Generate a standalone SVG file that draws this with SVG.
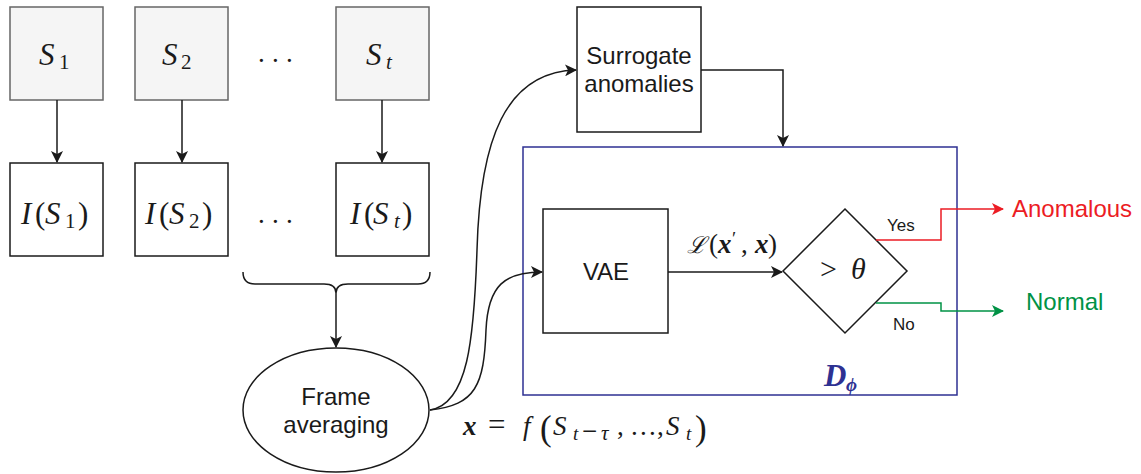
<svg xmlns="http://www.w3.org/2000/svg" width="1141" height="474" viewBox="0 0 1141 474">
  <defs>
    <marker id="arr" viewBox="0 0 12 12" refX="11" refY="6" markerWidth="12" markerHeight="12" markerUnits="userSpaceOnUse" orient="auto">
      <path d="M0,0 L12,6 L0,12 L3,6 Z" fill="#1a1a1a"/>
    </marker>
    <marker id="arrRed" viewBox="0 0 12 12" refX="11" refY="6" markerWidth="12" markerHeight="12" markerUnits="userSpaceOnUse" orient="auto">
      <path d="M0,0 L12,6 L0,12 L3,6 Z" fill="#ec1c24"/>
    </marker>
    <marker id="arrGreen" viewBox="0 0 12 12" refX="11" refY="6" markerWidth="12" markerHeight="12" markerUnits="userSpaceOnUse" orient="auto">
      <path d="M0,0 L12,6 L0,12 L3,6 Z" fill="#009245"/>
    </marker>
  </defs>
  <style>
    .src { fill: #f5f5f5; stroke: #666666; stroke-width: 1.5; }
    .box { fill: #ffffff; stroke: #1a1a1a; stroke-width: 1.5; }
    .math { font-family: "Liberation Serif", "DejaVu Serif", serif; fill: #1a1a1a; }
    .it { font-style: italic; }
    .bd { font-weight: bold; }
    .big { font-size: 31px; }
    .mid { font-size: 27px; }
    .sub { font-size: 21px; }
    .ssub { font-size: 19px; }
    .sans { font-family: "Liberation Sans", Arial, sans-serif; fill: #1a1a1a; }
    .lbl { font-size: 24px; }
    .small { font-size: 17px; }
    .edge { fill: none; stroke: #1a1a1a; stroke-width: 1.5; }
  </style>
  <rect width="1141" height="474" fill="#ffffff"/>

  <!-- source frames -->
  <g id="s1">
    <rect class="src" x="10" y="7" width="93" height="93"/>
    <text class="math big"><tspan class="it" x="39" y="65">S</tspan><tspan class="sub" x="59" y="69">1</tspan></text>
  </g>
  <g id="s2">
    <rect class="src" x="135" y="7" width="93" height="93"/>
    <text class="math big"><tspan class="it" x="162" y="65">S</tspan><tspan class="sub" x="181" y="69">2</tspan></text>
  </g>
  <g id="dots-top">
    <text class="math mid" x="258 272 286" y="62">...</text>
  </g>
  <g id="st">
    <rect class="src" x="336" y="7" width="93" height="93"/>
    <text class="math big"><tspan class="it" x="366" y="65">S</tspan><tspan class="it sub" x="386" y="69">t</tspan></text>
  </g>

  <!-- image frames -->
  <g id="i1">
    <rect class="box" x="10" y="163" width="93" height="93"/>
    <text class="math big"><tspan class="it" x="21" y="224">I</tspan><tspan x="35" y="224">(</tspan><tspan class="it" x="45" y="224">S</tspan><tspan class="sub" x="65" y="228">1</tspan><tspan x="78" y="224">)</tspan></text>
  </g>
  <g id="i2">
    <rect class="box" x="135" y="163" width="93" height="93"/>
    <text class="math big"><tspan class="it" x="145" y="224">I</tspan><tspan x="159" y="224">(</tspan><tspan class="it" x="169" y="224">S</tspan><tspan class="sub" x="189" y="228">2</tspan><tspan x="202" y="224">)</tspan></text>
  </g>
  <g id="dots-bottom">
    <text class="math mid" x="258 272 286" y="223">...</text>
  </g>
  <g id="it">
    <rect class="box" x="336" y="163" width="93" height="93"/>
    <text class="math big"><tspan class="it" x="350" y="224">I</tspan><tspan x="364" y="224">(</tspan><tspan class="it" x="373" y="224">S</tspan><tspan class="it sub" x="394" y="228">t</tspan><tspan x="402" y="224">)</tspan></text>
  </g>

  <!-- brace grouping the frames -->
  <g id="brace">
    <path class="edge" d="M243,272 Q243,284 255,284 L324,284 Q336,284 336,293 Q336,284 348,284 L418,284 Q430,284 430,272"/>
  </g>

  <!-- frame averaging -->
  <g id="frame-averaging">
    <ellipse class="box" cx="336" cy="410" rx="93" ry="62"/>
    <text class="sans lbl" x="336" y="405" text-anchor="middle">Frame</text>
    <text class="sans lbl" x="336" y="433" text-anchor="middle">averaging</text>
  </g>

  <g id="formula">
    <text class="math mid"><tspan class="it bd" x="463" y="435">x</tspan><tspan x="488" y="435" style="font-size:31px">=</tspan><tspan class="it" x="523" y="435">f</tspan><tspan style="font-size:35px" x="540" y="440">(</tspan><tspan class="it" x="553" y="435">S</tspan><tspan class="it ssub" x="573" y="440">t</tspan><tspan x="582" y="440">−</tspan><tspan class="it sub" x="601" y="440">τ</tspan><tspan x="617" y="435">,</tspan><tspan x="631 640 649" y="435">...</tspan><tspan x="657" y="435">,</tspan><tspan class="it" x="666" y="435">S</tspan><tspan class="it ssub" x="686" y="440">t</tspan><tspan style="font-size:35px" x="695" y="440">)</tspan></text>
  </g>

  <!-- surrogate anomalies -->
  <g id="surrogate">
    <rect class="box" x="577" y="7" width="124" height="125"/>
    <text class="sans lbl" x="639" y="64" text-anchor="middle">Surrogate</text>
    <text class="sans lbl" x="639" y="92" text-anchor="middle">anomalies</text>
  </g>

  <!-- discriminator container -->
  <g id="discriminator">
    <rect x="523" y="147" width="434" height="248" fill="none" stroke="#2e3192" stroke-width="1.5"/>
    <text class="math it bd" style="fill:#2e3192"><tspan class="big" x="824" y="386">D</tspan><tspan class="ssub" x="846" y="391">ϕ</tspan></text>
  </g>

  <g id="vae">
    <rect class="box" x="543" y="209" width="125" height="124"/>
    <text class="sans lbl" x="606" y="280" text-anchor="middle">VAE</text>
  </g>

  <g id="threshold">
    <path class="box" d="M845,209 L907,271 L845,333 L783,271 Z"/>
    <text class="math" style="font-size:30px"><tspan x="820" y="279">&gt;</tspan><tspan class="it" x="851" y="279">θ</tspan></text>
  </g>

  <g id="anomalous">
    <text class="sans lbl" x="1012" y="217" style="fill:#ec1c24">Anomalous</text>
  </g>
  <g id="normal">
    <text class="sans lbl" x="1026" y="310" style="fill:#009245">Normal</text>
  </g>

  <!-- connectors -->
  <g id="connectors">
    <path class="edge" d="M57,100 L57,162" marker-end="url(#arr)"/>
    <path class="edge" d="M182,100 L182,162" marker-end="url(#arr)"/>
    <path class="edge" d="M382,100 L382,162" marker-end="url(#arr)"/>
    <path class="edge" d="M336,293 L336,347" marker-end="url(#arr)"/>
    <path class="edge" d="M430,410 C468,404 474,340 477,250 C480,140 505,72 576,70" marker-end="url(#arr)"/>
    <path class="edge" d="M430,410 C476,405 484,385 486,330 C488,285 505,272 542,272" marker-end="url(#arr)"/>
    <path class="edge" d="M701,70 L783,70 L783,146" marker-end="url(#arr)"/>
    <path class="edge" d="M668,272 L782,272" marker-end="url(#arr)"/>
    <text class="math mid"><tspan class="it" style="font-size:23px" x="687" y="253">ℒ</tspan><tspan x="709" y="253">(</tspan><tspan class="it bd" x="718" y="253">x</tspan><tspan class="ssub" x="732" y="245">′</tspan><tspan x="741" y="253">,</tspan><tspan class="it bd" x="755" y="253">x</tspan><tspan x="768" y="253">)</tspan></text>
    <path d="M876,240 L941,240 L941,209 L1003,209" fill="none" stroke="#ec1c24" stroke-width="1.5" marker-end="url(#arrRed)"/>
    <path d="M876,303 L941,303 L941,311 L1003,311" fill="none" stroke="#009245" stroke-width="1.5" marker-end="url(#arrGreen)"/>
    <text class="sans small" x="887" y="231">Yes</text>
    <text class="sans small" x="893" y="330">No</text>
  </g>
</svg>
